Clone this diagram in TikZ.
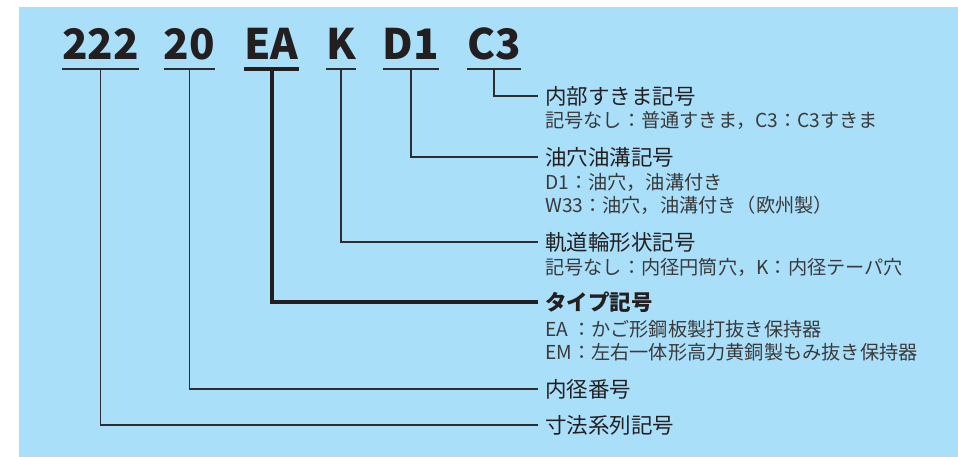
\documentclass[tikz,border=0pt]{standalone}
\usepackage{fontspec}
\setmainfont{Noto Sans CJK JP}
\usetikzlibrary{calc}
\definecolor{bgblue}{RGB}{170,223,250}
\definecolor{ink}{RGB}{35,31,32}
\definecolor{subink}{RGB}{58,58,58}
\definecolor{lineink}{RGB}{45,45,45}
\begin{document}
\begin{tikzpicture}[x=1pt,y=-1pt,
  code/.style={font=\fontsize{42}{42}\selectfont\bfseries, text=ink, inner sep=0pt, anchor=base},
  title/.style={font=\fontsize{21.5}{22}\selectfont, text=ink, inner sep=0pt, anchor=west},
  sub/.style={font=\fontsize{19.2}{20}\selectfont, text=subink, inner sep=0pt, anchor=west},
  uline/.style={draw=lineink, line width=1.5pt},
  lead/.style={draw=lineink, line width=1.5pt},
  heavy/.style={draw=ink, line width=4pt},
]
\useasboundingbox (0,0) rectangle (958,457);
\fill[bgblue] (19,7) rectangle (958,457);

% codes
\node[code] (c222) at (100.5,60) {222};
\node[code] (c20)  at (189.5,60) {20};
\node[code] (cEA)  at (271.5,60) {EA};
\node[code] (cK)   at (341,60)   {K};
\node[code] (cD1)  at (411,60)   {D1};
\node[code] (cC3)  at (494,60)   {C3};

% labels
\node[title] (tC3) at (545,96) {内部すきま記号};
\node[sub] (sC3) at (545,120) {記号なし：普通すきま，C3：C3すきま};
\node[title] (tD1) at (545,157) {油穴油溝記号};
\node[sub] (sD1a) at (545,182) {D1：油穴，油溝付き};
\node[sub] (sD1b) at (545,205) {W33：油穴，油溝付き（欧州製）};
\node[title] (tK) at (545,242) {軌道輪形状記号};
\node[sub] (sK) at (545,267) {記号なし：内径円筒穴，K：内径テーパ穴};
\node[title,font=\fontsize{21.5}{22}\selectfont\bfseries] (tEA) at (545,302) {タイプ記号};
\node[sub] (sEAa) at (545,329) {EA\hspace{4pt}：かご形鋼板製打抜き保持器};
\node[sub] (sEAb) at (545,352) {EM：左右一体形高力黄銅製もみ抜き保持器};
\node[title] (t20) at (545,389) {内径番号};
\node[title] (t222) at (545,425) {寸法系列記号};

% underlines
\foreach \n in {c222,c20,cK,cD1,cC3}{
  \draw[uline] ([yshift=-9pt]\n.base west) -- ([yshift=-9pt]\n.base east);
}
\draw[heavy] ([yshift=-9pt]cEA.base west) -- ([yshift=-9pt]cEA.base east);

% leaders
\draw[lead] ([yshift=-9pt]cC3.base) |- ([xshift=-7pt]tC3.west);
\draw[lead] ([yshift=-9pt]cD1.base) |- ([xshift=-7pt]tD1.west);
\draw[lead] ([yshift=-9pt]cK.base) |- ([xshift=-7pt]tK.west);
\draw[heavy] ([yshift=-9pt]cEA.base) |- ([xshift=-7pt]tEA.west);
\draw[lead] ([yshift=-9pt]c20.base) |- ([xshift=-7pt]t20.west);
\draw[lead] ([yshift=-9pt]c222.base) |- ([xshift=-7pt]t222.west);
\end{tikzpicture}
\end{document}
